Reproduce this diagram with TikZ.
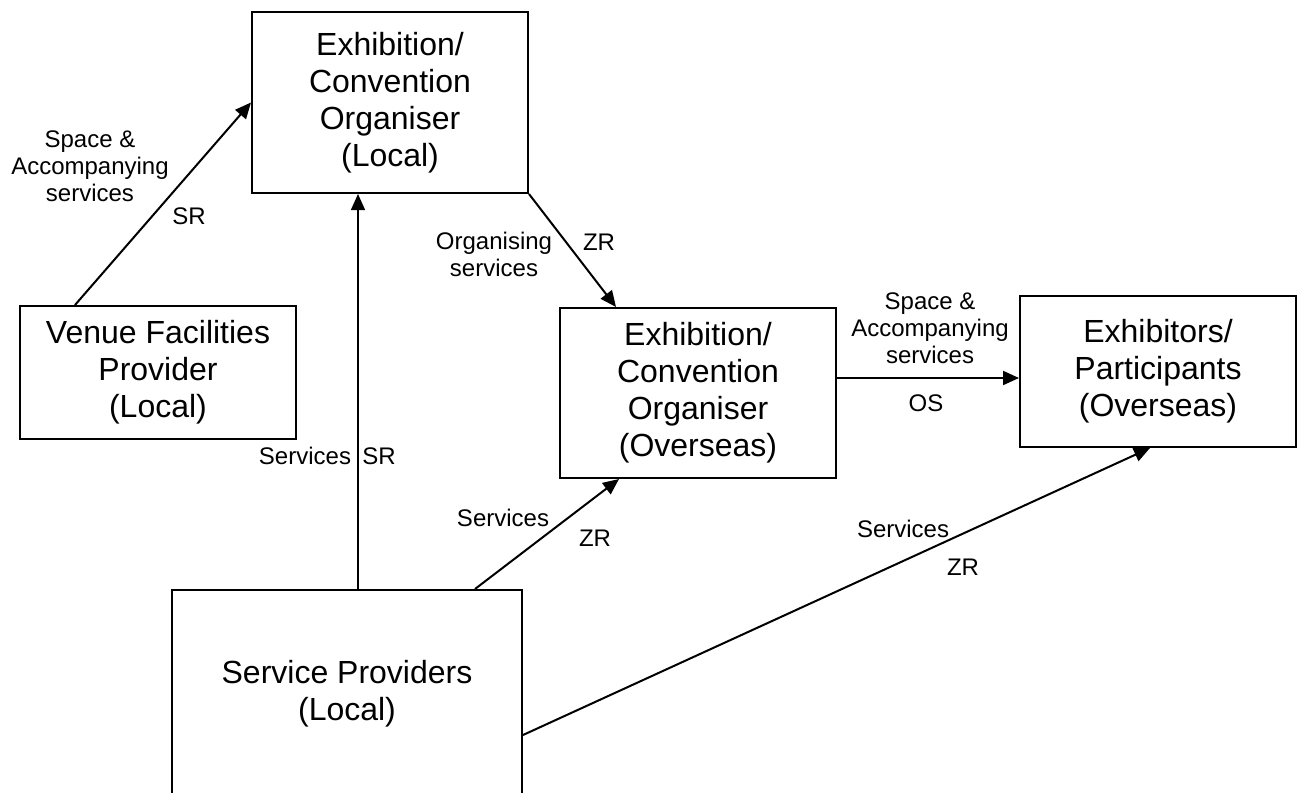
\documentclass[tikz,border=0pt]{standalone}
\usepackage{fontspec}
\setmainfont{Liberation Sans}
\usetikzlibrary{arrows.meta}
\tikzset{
  ->,
  >={Triangle[length=8pt, width=7pt]},
  party/.style={draw, align=center, minimum width=138pt, font=\fontsize{16}{18.5}\selectfont},
  flow/.style={align=center, inner sep=0pt, font=\fontsize{12}{13.5}\selectfont},
}

\begin{document}
\begin{tikzpicture}[x=0.5pt, y=-0.5pt, line width=1pt]
        \useasboundingbox (0,0) rectangle (1305,792);

        % parties
        \node[party, minimum height=90.5pt] (cl) at (390,102.5) {Exhibition/\\Convention\\Organiser\\(Local)};
        \node[party, minimum height=66.5pt] (vf) at (158,372.5) {Venue Facilities\\Provider\\(Local)};
        \node[party, minimum height=85pt] (co) at (698,393) {Exhibition/\\Convention\\Organiser\\(Overseas)};
        \node[party, minimum height=75.5pt] (ep) at (1158,371.5) {Exhibitors/\\Participants\\(Overseas)};
        \node[party, minimum width=175pt, minimum height=104pt] (sp) at (347,694) {Service Providers\\(Local)};

        % flows
        \draw ([xshift=-41.5pt]vf.north) -- (cl.west);
        \draw[line width=0.7pt] ([xshift=5.5pt]sp.north) coordinate (spup) -- (spup |- cl.south);
        \draw (cl.south east) -- ([xshift=-41pt]co.north);
        \draw ([yshift=7.5pt]co.east) coordinate (coright) -- (coright -| ep.west);
        \draw ([xshift=64pt]sp.north) -- ([xshift=-39.5pt]co.south);
        \draw ([yshift=-20.5pt]sp.east) -- ([xshift=-4pt]ep.south);

        % labels
        \node[flow] (space1) at (90,166) {Space \&\\Accompanying\\services};
        \node[flow] (sr1) at (189,216) {SR};
        \node[flow] (organising) at (494,254) {Organising\\services};
        \node[flow] (zr1) at (599,242) {ZR};
        \node[flow] (space2) at (930,328) {Space \&\\Accompanying\\services};
        \node[flow] (os) at (926,403) {OS};
        \node[flow] (serv1) at (305,456) {Services};
        \node[flow] (sr2) at (379,456) {SR};
        \node[flow] (serv2) at (503,518) {Services};
        \node[flow] (zr2) at (595,538) {ZR};
        \node[flow] (serv3) at (903,529) {Services};
        \node[flow] (zr3) at (963,567) {ZR};

      \end{tikzpicture}
\end{document}
